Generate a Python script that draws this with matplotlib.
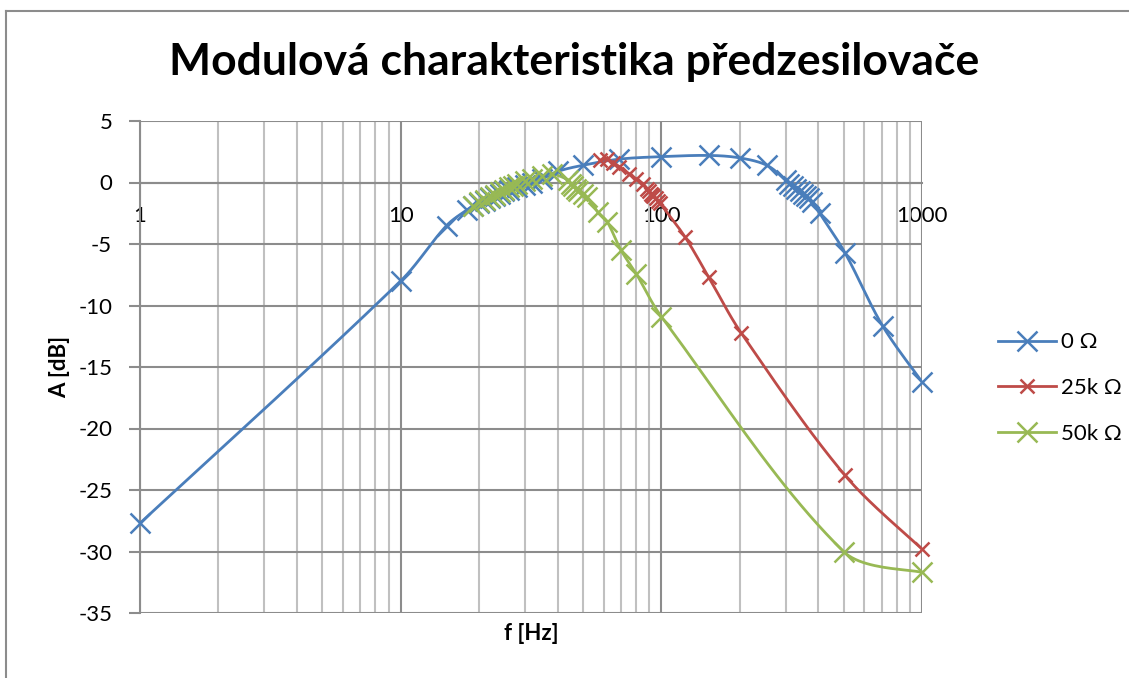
import numpy as np
import matplotlib
matplotlib.use('Agg')
from matplotlib import pyplot as plt
from matplotlib.lines import Line2D
from matplotlib.ticker import FixedLocator, NullFormatter

plt.rcParams['font.family'] = ['Lato', 'DejaVu Sans']
plt.rcParams['axes.unicode_minus'] = False

# 0 ohm
f0 = [1, 10, 15, 18, 19, 20, 21, 22, 23, 24, 25, 26, 28, 30, 32, 35, 40, 50, 69,
      100, 153, 200, 254, 300, 310, 320, 330, 340, 350, 360, 370, 380, 405, 506, 708, 1000]
a0 = [-27.7, -8.0, -3.5, -2.2, -1.9, -1.7, -1.5, -1.3, -1.1, -0.9, -0.7, -0.6, -0.4, -0.2, 0.0, 0.3, 0.9, 1.4, 1.9,
      2.1, 2.2, 2.0, 1.4, 0.2, -0.1, -0.3, -0.5, -0.7, -0.9, -1.1, -1.3, -1.6, -2.5, -5.7, -11.7, -16.2]
# 25k ohm
f25 = [58, 62, 65, 69, 75, 80, 85, 88, 90, 91, 92, 93, 95, 97, 99, 123, 152, 202, 506, 1000]
a25 = [1.8, 1.9, 1.6, 1.3, 0.7, 0.3, -0.1, -0.5, -0.7, -0.9, -1.0, -1.1, -1.3, -1.5, -1.7, -4.4, -7.7, -12.2, -23.8, -29.8]
# 50k ohm
f50 = [19, 20, 21, 22, 23, 24, 25, 26, 27, 28, 30, 32, 35, 38, 44, 45, 46, 47, 48, 50, 52,
       57, 62, 70, 80, 100, 500, 1000]
a50 = [-1.9, -1.6, -1.4, -1.2, -1.0, -0.8, -0.6, -0.4, -0.3, -0.1, 0.1, 0.3, 0.5, 0.7, 0.2, -0.1, -0.3, -0.5, -0.7, -0.9, -1.2,
       -2.4, -3.2, -5.5, -7.4, -10.9, -30.0, -31.7]

labels = ['0 Ω', '25k Ω', '50k Ω']
colors = ['#4A7EBB', '#BE4B48', '#98B954']
msizes = [15, 10, 15]


def smooth(x, y, n=24):
    # smoothed line like Excel: bezier through points, worked in (log x, y) pixel space
    sx = np.log10(np.asarray(x, float)) * 260.7
    sy = np.asarray(y, float) * 12.3
    P = np.column_stack([sx, sy])
    N = len(P)
    d = np.r_[np.hypot(*np.diff(P, axis=0).T)]
    tang = np.zeros_like(P)
    for i in range(N):
        if i == 0:
            tang[i] = (P[1] - P[0]) / 3
        elif i == N - 1:
            tang[i] = (P[-1] - P[-2]) / 3
        else:
            tang[i] = (P[i + 1] - P[i - 1]) / 3
    out = [P[0]]
    t = np.linspace(0, 1, n)[1:, None]
    for i in range(N - 1):
        p1, p2 = P[i], P[i + 1]
        w1 = d[i] / (d[i] + d[i - 1]) if i > 0 else 0.5
        w2 = d[i] / (d[i] + d[i + 1]) if i + 1 < N - 1 else 0.5
        c1 = p1 + tang[i] * w1
        c2 = p2 - tang[i + 1] * w2
        seg = (1 - t) ** 3 * p1 + 3 * (1 - t) ** 2 * t * c1 + 3 * (1 - t) * t ** 2 * c2 + t ** 3 * p2
        out.extend(seg)
    out = np.array(out)
    return 10 ** (out[:, 0] / 260.7), out[:, 1] / 12.3


fig = plt.figure(figsize=(11.29, 6.78), dpi=100)
ax = fig.add_axes([140 / 1129, 1 - 613 / 678, (922 - 140) / 1129, (613 - 121) / 678])

for (fx, ay), lab, c, ms in zip([(f0, a0), (f25, a25), (f50, a50)], labels, colors, msizes):
    xs, ys = smooth(fx, ay)
    ax.plot(xs, ys, color=c, lw=2, zorder=3)
    ax.plot(fx, ay, ls='none', marker='x', ms=ms, mew=1.8, color=c, zorder=4, clip_on=False)

ax.set_xscale('log')
ax.set_xlim(1, 1000)
ax.set_ylim(-35, 5)
ax.set_yticks(np.arange(-35, 6, 5))
ax.xaxis.set_major_locator(FixedLocator([1, 10, 100, 1000]))
ax.set_xticklabels(['1', '10', '100', '1000'])
ax.xaxis.set_minor_locator(FixedLocator([m * 10 ** d for d in range(3) for m in range(2, 10)]))
ax.xaxis.set_minor_formatter(NullFormatter())

ax.grid(True, which='major', color='#8C8C8C', lw=1.5)
ax.grid(True, which='minor', axis='x', color='#C0C0C0', lw=1.5)
ax.set_axisbelow(True)

for s in ['top', 'right']:
    ax.spines[s].set_visible(False)
ax.spines['bottom'].set_position(('data', 0))
ax.spines['bottom'].set_color('#8C8C8C')
ax.spines['bottom'].set_linewidth(1.5)
ax.spines['left'].set_color('#8C8C8C')
ax.spines['left'].set_linewidth(1.5)

ax.tick_params(axis='y', length=8, width=1.5, color='#8C8C8C', pad=12, labelsize=16)
ax.tick_params(axis='x', which='both', length=0, pad=17, labelsize=16)

fig.text(60 / 1129, 1 - 367 / 678, 'A [dB]', rotation=90, ha='center', va='center',
         fontsize=16, fontweight='bold')
fig.text(531 / 1129, 1 - 633 / 678, 'f [Hz]', ha='center', va='center',
         fontsize=16, fontweight='bold')
fig.text(574 / 1129, 1 - 62 / 678, 'Modulová charakteristika předzesilovače', ha='center', va='center',
         fontsize=32, fontweight='bold')

handles = [Line2D([], [], color=c, lw=2, marker='x', ms=ms, mew=1.8) for c, ms in zip(colors, msizes)]
fig.legend(handles, labels, loc='center left', bbox_to_anchor=(978 / 1129, 1 - 388 / 678),
           frameon=False, fontsize=16, handlelength=2.6, labelspacing=1.15, handletextpad=0.25)

# chart frame
fig.add_artist(Line2D([6 / 1129, 6 / 1129], [0, 1 - 11 / 678], color='#8C8C8C', lw=1.5))
fig.add_artist(Line2D([6 / 1129, 1], [1 - 11 / 678, 1 - 11 / 678], color='#8C8C8C', lw=1.5))

fig.savefig('out.png', dpi=100)
